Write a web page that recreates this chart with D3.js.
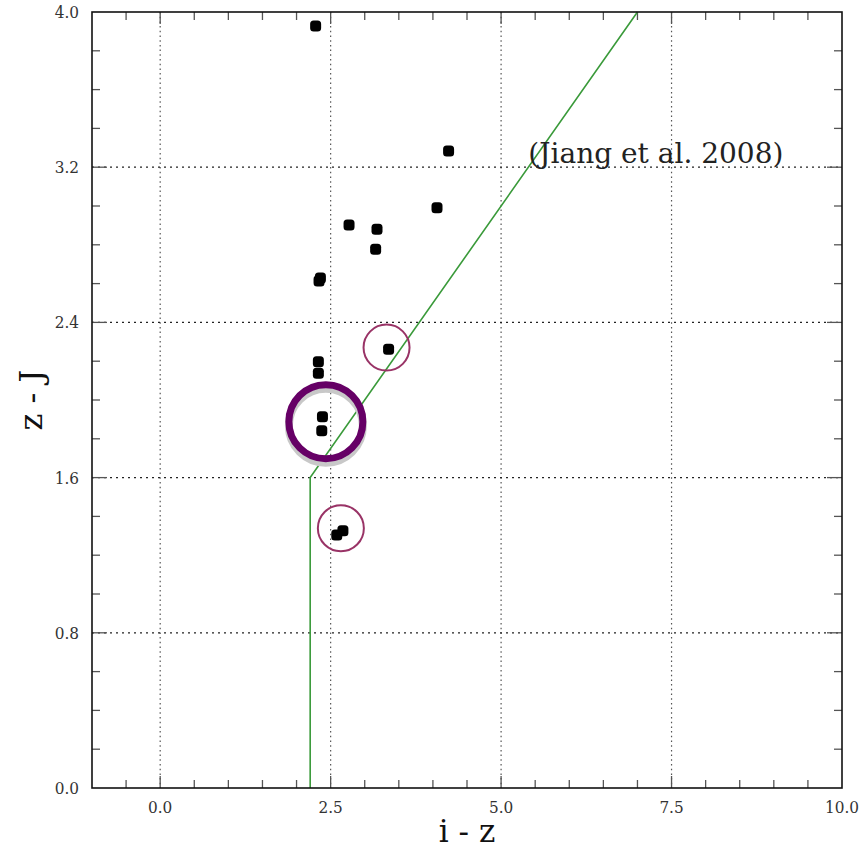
<!DOCTYPE html>
<html>
<head>
<meta charset="utf-8">
<script src="https://cdn.jsdelivr.net/npm/d3@7"></script>
<style>
  html, body { margin: 0; padding: 0; background: #fff; }
  svg { display: block; }
</style>
</head>
<body>
<svg id="chart" width="861" height="851"></svg>
<script>
// ---- data ----
const izValues = [2.28, 4.23, 4.06, 2.77, 3.18, 3.16, 2.33, 2.35, 3.35, 2.32, 2.32, 2.38, 2.37, 2.59, 2.68];
const zjValues = [3.928, 3.284, 2.991, 2.902, 2.880, 2.777, 2.613, 2.629, 2.261, 2.197, 2.138, 1.914, 1.842, 1.304, 1.326];
const boundaryIZ = [2.2, 2.2, 7.0];
const boundaryZJ = [0.0, 1.6, 4.0];
const highlightIZ = [2.43];
const highlightZJ = [1.888];
const ringIZ = [3.32, 2.65];
const ringZJ = [2.27, 1.339];
const xTickLabels = ["0.0", "2.5", "5.0", "7.5", "10.0"];
const xTickValues = [0, 2.5, 5, 7.5, 10];
const yTickLabels = ["0.0", "0.8", "1.6", "2.4", "3.2", "4.0"];
const yTickValues = [0, 0.8, 1.6, 2.4, 3.2, 4.0];
const annotation = "(Jiang et al. 2008)";
const annotationPos = [5.4, 3.22];

// ---- layout ----
const L = 92, R = 842, T = 12, B = 788;
const svg = d3.select("#chart");
const x = d3.scaleLinear().domain([-1, 10]).range([L, R]);
const y = d3.scaleLinear().domain([0, 4]).range([B, T]);

const serif = "'DejaVu Serif', serif";
const condSerif = "'DejaVu Serif Condensed', 'DejaVu Serif', serif";

// grid
const grid = svg.append("g");
grid.selectAll("line.gx").data(xTickValues.filter(v => v > -1 && v < 10)).join("line")
  .attr("x1", d => x(d)).attr("x2", d => x(d)).attr("y1", T).attr("y2", B)
  .attr("stroke", "#555").attr("stroke-width", 1.2).attr("stroke-dasharray", "1.5,3.2");
grid.selectAll("line.gy").data(yTickValues.filter(v => v > 0 && v < 4)).join("line")
  .attr("x1", L).attr("x2", R).attr("y1", d => y(d)).attr("y2", d => y(d))
  .attr("stroke", "#222").attr("stroke-width", 1.2).attr("stroke-dasharray", "2,4");

// ticks
const xMinor = d3.range(-0.5, 10, 0.5);
const yMinor = d3.range(0.2, 4, 0.2);
const isMajX = v => xTickValues.some(t => Math.abs(t - v) < 1e-6);
const isMajY = v => yTickValues.some(t => Math.abs(t - v) < 1e-6);
const ticks = svg.append("g").attr("stroke", "#555").attr("stroke-width", 1.3);
xMinor.forEach(v => {
  const len = isMajX(v) ? 12 : 8;
  ticks.append("line").attr("x1", x(v)).attr("x2", x(v)).attr("y1", B).attr("y2", B - len);
  ticks.append("line").attr("x1", x(v)).attr("x2", x(v)).attr("y1", T).attr("y2", T + len);
});
yMinor.forEach(v => {
  const len = isMajY(v) ? 15 : 8;
  ticks.append("line").attr("y1", y(v)).attr("y2", y(v)).attr("x1", L).attr("x2", L + len);
  ticks.append("line").attr("y1", y(v)).attr("y2", y(v)).attr("x1", R).attr("x2", R - len);
});

// boundary line
const line = d3.line().x(d => x(d[0])).y(d => y(d[1]));
svg.append("path")
  .datum(boundaryIZ.map((v, i) => [v, boundaryZJ[i]]))
  .attr("d", line).attr("fill", "none").attr("stroke", "#3a9a3a").attr("stroke-width", 1.6);

// points
svg.append("g").selectAll("rect").data(izValues.map((v, i) => [v, zjValues[i]])).join("rect")
  .attr("x", d => x(d[0]) - 5.5).attr("y", d => y(d[1]) - 5.5)
  .attr("width", 11).attr("height", 11).attr("rx", 3.5).attr("fill", "#000");

// highlight circle with shadow
const hl = highlightIZ.map((v, i) => [v, highlightZJ[i]]);
svg.append("g").selectAll("circle").data(hl).join("circle")
  .attr("cx", d => x(d[0])).attr("cy", d => y(d[1]) + 4).attr("r", 37)
  .attr("fill", "none").attr("stroke", "#c8c8c8").attr("stroke-width", 8);
svg.append("g").selectAll("circle").data(hl).join("circle")
  .attr("cx", d => x(d[0])).attr("cy", d => y(d[1])).attr("r", 37)
  .attr("fill", "none").attr("stroke", "#660066").attr("stroke-width", 7);

// small rings
svg.append("g").selectAll("circle").data(ringIZ.map((v, i) => [v, ringZJ[i]])).join("circle")
  .attr("cx", d => x(d[0])).attr("cy", d => y(d[1])).attr("r", 23)
  .attr("fill", "none").attr("stroke", "#993366").attr("stroke-width", 2);

// frame
svg.append("rect").attr("x", L).attr("y", T).attr("width", R - L).attr("height", B - T)
  .attr("fill", "none").attr("stroke", "#111").attr("stroke-width", 1.6);

// tick labels
svg.append("g").selectAll("text").data(xTickValues).join("text")
  .attr("x", d => x(d)).attr("y", B + 25).attr("text-anchor", "middle")
  .attr("font-family", condSerif).attr("font-size", 17).attr("fill", "#333")
  .text((d, i) => xTickLabels[i]);
svg.append("g").selectAll("text").data(yTickValues).join("text")
  .attr("x", L - 13).attr("y", d => y(d) + 6).attr("text-anchor", "end")
  .attr("font-family", condSerif).attr("font-size", 17).attr("fill", "#333")
  .text((d, i) => yTickLabels[i]);

// axis labels
svg.append("text").attr("x", (L + R) / 2).attr("y", 842).attr("text-anchor", "middle")
  .attr("font-family", serif).attr("font-size", 31).attr("fill", "#111").text("i - z");
svg.append("text").attr("transform", `translate(42,${(T + B) / 2}) rotate(-90)`)
  .attr("text-anchor", "middle")
  .attr("font-family", serif).attr("font-size", 32).attr("fill", "#111").text("z - J");

// annotation
svg.append("text").attr("x", x(annotationPos[0])).attr("y", y(annotationPos[1]))
  .attr("font-family", serif).attr("font-size", 28).attr("fill", "#222").text(annotation);
</script>
</body>
</html>
